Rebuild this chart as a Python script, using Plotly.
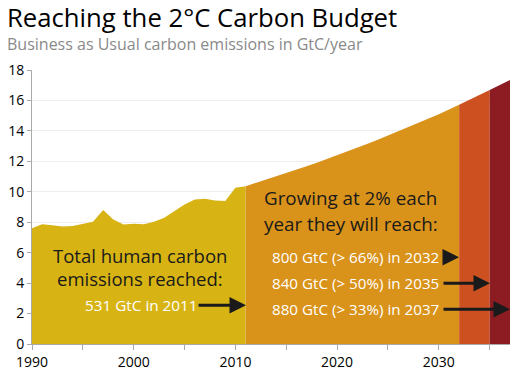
import plotly.graph_objects as go

# Historic emissions (GtC/yr)
hist_years = list(range(1990, 2012))
hist_vals = [7.60, 7.87, 7.80, 7.72, 7.75, 7.90, 8.03, 8.80, 8.18, 7.85, 7.90,
             7.87, 8.03, 8.30, 8.75, 9.17, 9.50, 9.55, 9.43, 9.40, 10.26, 10.37]

# Business as usual projection (2% growth)
proj_years = list(range(2011, 2038))
proj_vals = [10.37, 10.58, 10.79, 11.00, 11.22, 11.45, 11.68, 11.91, 12.15, 12.39,
             12.64, 12.89, 13.15, 13.41, 13.68, 13.96, 14.24, 14.52, 14.81, 15.10,
             15.41, 15.72, 16.03, 16.35, 16.68, 17.01, 17.35]

segments = [  # (start year, end year, colour)
    (2011, 2032, "#D9921A"),
    (2032, 2035, "#CD5020"),
    (2035, 2037, "#8D1B22"),
]

x_ticks = [1990, 1995, 2000, 2005, 2010, 2015, 2020, 2025, 2030, 2035]
x_tick_text = ["1990", "", "2000", "", "2010", "", "2020", "", "2030", ""]
y_ticks = [0, 2, 4, 6, 8, 10, 12, 14, 16, 18]

FONT = "Open Sans"

fig = go.Figure()
fig.add_trace(go.Scatter(x=hist_years, y=hist_vals, mode="lines", line=dict(width=0),
                         fill="tozeroy", fillcolor="#D7B414", hoverinfo="skip"))
for s, e, c in segments:
    xs = [y for y in proj_years if s <= y <= e]
    ys = [v for y, v in zip(proj_years, proj_vals) if s <= y <= e]
    fig.add_trace(go.Scatter(x=xs, y=ys, mode="lines", line=dict(width=0),
                             fill="tozeroy", fillcolor=c, hoverinfo="skip"))

X0, PX0, PXS = 1990, 32, 10.17
Y0PX, PYS = 343.7, 15.2
def dx(px): return X0 + (px - PX0) / PXS
def dy(py): return (Y0PX - py) / PYS

ann = []
def txt(t, px, py, size, color, anchor="left"):
    ann.append(dict(text=t, x=dx(px), y=dy(py), xref="x", yref="y", showarrow=False,
                    xanchor=anchor, yanchor="middle",
                    font=dict(family=FONT, size=size, color=color)))
def arrow(px0, px1, py):
    ann.append(dict(text="", x=dx(px1), y=dy(py), ax=dx(px0), ay=dy(py),
                    xref="x", yref="y", axref="x", ayref="y", showarrow=True,
                    arrowhead=2, arrowsize=1.1, arrowwidth=3, arrowcolor="#1a1a1a"))

txt("Total human carbon", 140, 255, 18.5, "#1a1a1a", "center")
txt("emissions reached:", 140, 278, 18.5, "#1a1a1a", "center")
txt("531 GtC in 2011", 83, 305, 15.3, "white")
arrow(197, 246, 305)
txt("Growing at 2% each", 262, 198, 18.8, "#1a1a1a")
txt("year they will reach:", 262, 224, 18.8, "#1a1a1a")
txt("800 GtC (&gt; 66%) in 2032", 270, 257, 15.2, "white")
txt("840 GtC (&gt; 50%) in 2035", 270, 283, 15.2, "white")
txt("880 GtC (&gt; 33%) in 2037", 270, 309, 15.2, "white")
arrow(442, 459, 257)
arrow(442, 490, 283)
arrow(442, 510, 309)

ann.append(dict(text="Reaching the 2°C Carbon Budget", x=5, y=18, xref="paper", yref="paper",
                xanchor="left", yanchor="middle", showarrow=False,
                font=dict(family=FONT, size=25.7, color="black")))
ann.append(dict(text="Business as Usual carbon emissions in GtC/year", x=5, y=44,
                xref="paper", yref="paper", xanchor="left", yanchor="middle", showarrow=False,
                font=dict(family=FONT, size=16, color="#8a8a8a")))
# convert title positions to paper coords
for a in ann[-2:]:
    a["x"] = (a["x"] - 32) / (510 - 32)
    a["y"] = (Y0PX - a["y"]) / (Y0PX - 70)

fig.update_layout(
    width=519, height=376,
    margin=dict(l=32, r=9, t=70, b=376 - 343.7, autoexpand=False),
    plot_bgcolor="white", paper_bgcolor="white",
    showlegend=False, annotations=ann,
    font=dict(family=FONT, size=14, color="black"),
    xaxis=dict(range=[1990, 2037], tickvals=x_ticks, ticktext=x_tick_text,
               showgrid=False, showline=True, linecolor="#aaaaaa", ticks="outside",
               ticklen=5, tickcolor="#aaaaaa", zeroline=False, automargin=False,
               tickfont=dict(family=FONT, size=14, color="black")),
    yaxis=dict(range=[0, 18], tickvals=y_ticks, showgrid=True, gridcolor="#eeeeee",
               showline=True, linecolor="#aaaaaa", ticks="outside", ticklen=4,
               tickcolor="#aaaaaa", zeroline=False, automargin=False,
               tickfont=dict(family=FONT, size=14, color="black")),
)
fig.write_html("out.html", config={"displayModeBar": False},
               post_script="document.body.style.margin='0';document.body.style.overflow='hidden';")
